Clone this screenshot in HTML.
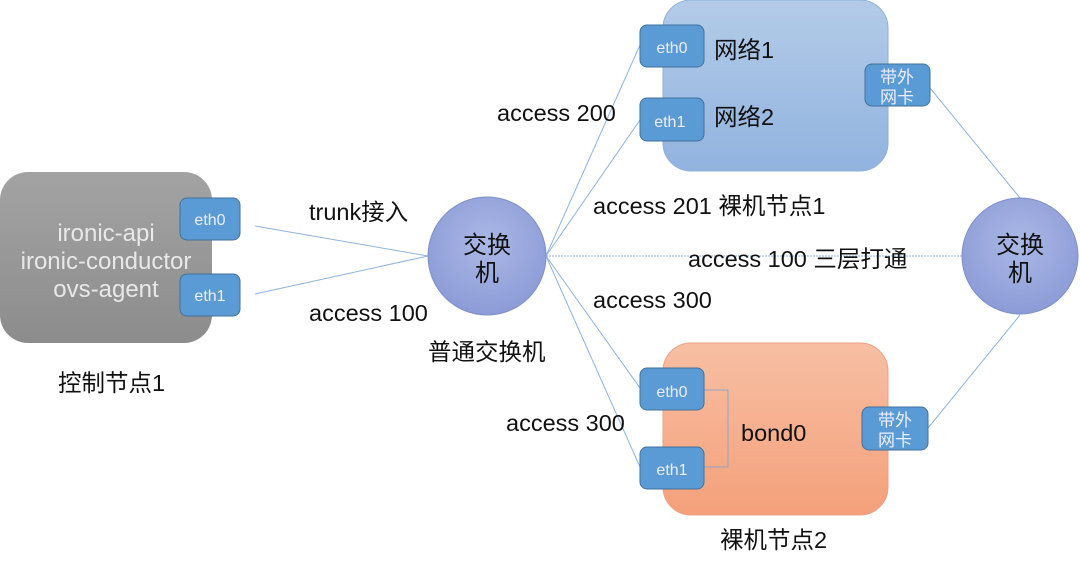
<!DOCTYPE html>
<html><head><meta charset="utf-8"><style>
body{margin:0;background:#fff;}
svg text{font-family:"Liberation Sans","Noto Sans CJK SC",sans-serif;}
</style></head><body>
<svg width="1080" height="568" viewBox="0 0 1080 568" xmlns="http://www.w3.org/2000/svg">
<defs>
<linearGradient id="g1" x1="0" y1="0" x2="0" y2="1"><stop offset="0" stop-color="#a3a3a3"/><stop offset="1" stop-color="#8c8c8c"/></linearGradient>
<linearGradient id="b1" x1="0" y1="0" x2="0" y2="1"><stop offset="0" stop-color="#b3cbe8"/><stop offset="1" stop-color="#91b3df"/></linearGradient>
<linearGradient id="o1" x1="0" y1="0" x2="0" y2="1"><stop offset="0" stop-color="#f7bfa3"/><stop offset="1" stop-color="#f4a07a"/></linearGradient>
<radialGradient id="c1" cx="0.5" cy="0.4" r="0.6"><stop offset="0" stop-color="#aab8e6"/><stop offset="1" stop-color="#8c9bd6"/></radialGradient>
</defs>
<g stroke="#8fb3dc" stroke-width="1" fill="none">
<line x1="255" y1="226" x2="428" y2="256"/>
<line x1="255" y1="294" x2="428" y2="256"/>
<line x1="546" y1="256" x2="640" y2="45"/>
<line x1="546" y1="256" x2="640" y2="120"/>
<line x1="546" y1="256" x2="640" y2="388"/>
<line x1="546" y1="256" x2="640" y2="467"/>
<line x1="546" y1="256" x2="962" y2="256" stroke-dasharray="2,1"/>
<line x1="930" y1="88" x2="1020" y2="198"/>
<line x1="928" y1="428" x2="1020" y2="315"/>
</g>
<rect x="0" y="172" width="212" height="171" rx="28" fill="url(#g1)"/>
<text fill="#e8e8e8" font-size="24" text-anchor="middle"><tspan x="106" y="241">ironic-api</tspan><tspan x="106" y="269">ironic-conductor</tspan><tspan x="106" y="297">ovs-agent</tspan></text>
<g fill="#5b9bd5" stroke="#41719c" stroke-width="1">
<rect x="180" y="198" width="60" height="42" rx="7"/>
<rect x="180" y="274" width="60" height="42" rx="7"/>
</g>
<text fill="#eef" font-size="16" text-anchor="middle"><tspan x="210" y="225">eth0</tspan><tspan x="210" y="301">eth1</tspan></text>
<circle cx="487" cy="256" r="59" fill="url(#c1)" stroke="#7f8fc8"/>
<text font-size="24" text-anchor="middle" fill="#111"><tspan x="487" y="253">交换</tspan><tspan x="487" y="281">机</tspan></text>
<circle cx="1020" cy="256" r="58" fill="url(#c1)" stroke="#7f8fc8"/>
<text font-size="24" text-anchor="middle" fill="#111"><tspan x="1020" y="253">交换</tspan><tspan x="1020" y="281">机</tspan></text>
<rect x="663" y="0" width="225" height="171" rx="28" fill="url(#b1)" stroke="#8fb0d8"/>
<rect x="663" y="343" width="225" height="172" rx="28" fill="url(#o1)" stroke="#eea083"/>
<polyline points="704,390 728,390 728,467 704,467" fill="none" stroke="#8fa5c8"/>
<g fill="#5b9bd5" stroke="#41719c" stroke-width="1">
<rect x="640" y="25" width="64" height="42" rx="7"/>
<rect x="640" y="98" width="64" height="43" rx="7"/>
<rect x="865" y="64" width="65" height="42" rx="7"/>
<rect x="640" y="368" width="64" height="42" rx="7"/>
<rect x="640" y="447" width="64" height="42" rx="7"/>
<rect x="862" y="407" width="66" height="43" rx="7"/>
</g>
<text fill="#eef" font-size="16" text-anchor="middle">
<tspan x="672" y="53">eth0</tspan><tspan x="672" y="127">eth1</tspan>
<tspan x="672" y="397">eth0</tspan><tspan x="672" y="475">eth1</tspan></text>
<text fill="#eef" font-size="17" text-anchor="middle"><tspan x="897" y="83">带外</tspan><tspan x="897" y="103">网卡</tspan><tspan x="895" y="426">带外</tspan><tspan x="895" y="446">网卡</tspan></text>
<g font-size="23.5" fill="#111">
<text x="714" y="58">网络1</text>
<text x="714" y="125">网络2</text>
<text x="741" y="441">bond0</text>
<text x="309" y="220">trunk接入</text>
<text x="309" y="321">access 100</text>
<text x="428" y="360">普通交换机</text>
<text x="58" y="391">控制节点1</text>
<text x="497" y="121">access 200</text>
<text x="593" y="214">access 201 裸机节点1</text>
<text x="688" y="267">access 100 三层打通</text>
<text x="593" y="308">access 300</text>
<text x="506" y="431">access 300</text>
<text x="720" y="548">裸机节点2</text>
</g>
</svg>
</body></html>
